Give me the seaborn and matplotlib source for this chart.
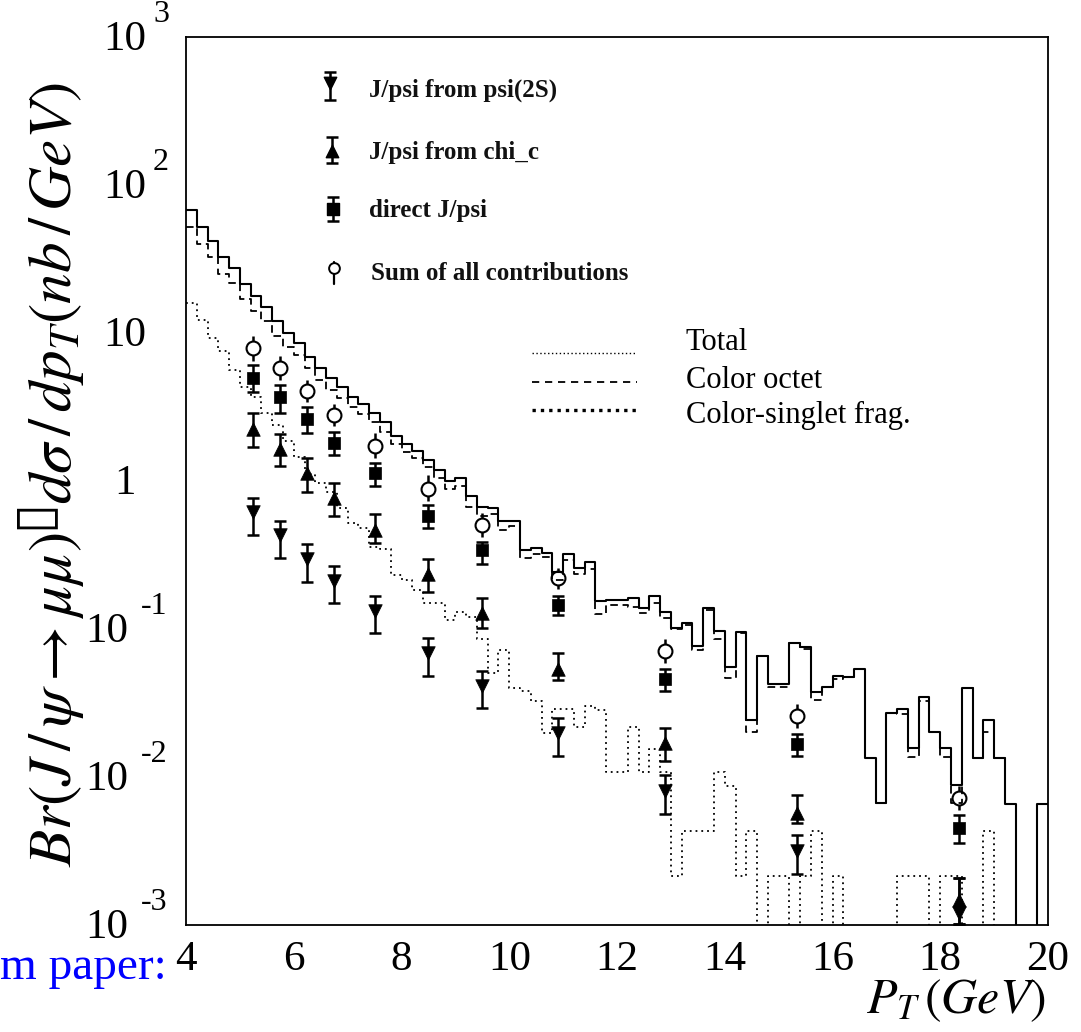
import numpy as np
import pandas as pd
import matplotlib
matplotlib.use("Agg")
import matplotlib.pyplot as plt
from matplotlib import transforms as mtransforms
from matplotlib.ticker import FixedLocator, MultipleLocator, LogLocator, NullFormatter
import seaborn as sns

# ---------------- histogram contents: 0.2 GeV bins, 4 - 20 GeV (nb/GeV) ----------------
pt_lo, pt_hi, n_bins = 4.0, 20.0, 80

total = [
    67.8, 52.0, 41.9, 32.6, 27.5, 21.4, 17.8, 15.0, 12.0, 10.0,
    8.56, 6.88, 5.80, 4.97, 4.32, 3.70, 3.31, 2.88, 2.50, 2.01,
    1.78, 1.60, 1.39, 1.19, 1.00, 1.05, 0.792, 0.667, 0.652, 0.537,
    0.537, 0.342, 0.352, 0.326, 0.243, 0.321, 0.258, 0.284, 0.155, 0.157,
    0.157, 0.162, 0.139, 0.167, 0.130, 0.102, 0.110, 0.0767, 0.139, 0.0969,
    0.0553, 0.0955, 0.0243, 0.0657, 0.0425, 0.0425, 0.0804, 0.0755, 0.0375, 0.0406,
    0.0481, 0.0472, 0.0537, 0.0134, 0.00667, 0.0270, 0.0288, 0.0157, 0.0347, 0.0201,
    0.0157, 0.00883, 0.0399, 0.0134, 0.0243, 0.0134, 0.00655, 0.0, 0.0, 0.00655,
]

color_octet = [
    51.8, 39.8, 32.6, 25.0, 21.9, 17.1, 14.1, 12.1, 9.6, 8.1,
    7.1, 5.77, 4.83, 4.13, 3.66, 3.18, 2.83, 2.52, 2.15, 1.78,
    1.57, 1.42, 1.24, 1.04, 0.885, 0.92, 0.671, 0.58, 0.60, 0.465,
    0.497, 0.304, 0.319, 0.306, 0.214, 0.292, 0.236, 0.254, 0.127, 0.146,
    0.146, 0.140, 0.128, 0.151, 0.119, 0.0995, 0.106, 0.0724, 0.135, 0.0861,
    0.0466, 0.0934, 0.0200, 0.0657, 0.0404, 0.0404, 0.0804, 0.0734, 0.0332, 0.0406,
    0.0460, 0.0472, 0.0537, 0.0134, 0.00667, 0.0270, 0.0267, 0.0136, 0.0326, 0.0201,
    0.0136, 0.0067, 0.0399, 0.0134, 0.0200, 0.0134, 0.00655, 0.0, 0.0, 0.00655,
]

singlet_frag = [
    16.0, 12.2, 9.25, 7.56, 5.62, 4.32, 3.70, 2.88, 2.39, 1.86,
    1.45, 1.11, 0.969, 0.843, 0.657, 0.520, 0.481, 0.358, 0.347, 0.232,
    0.214, 0.184, 0.150, 0.150, 0.115, 0.130, 0.121, 0.0855, 0.0505, 0.0721,
    0.0399, 0.0381, 0.0327, 0.0198, 0.0288, 0.0288, 0.0218, 0.0302, 0.0285, 0.0108,
    0.0108, 0.0218, 0.0108, 0.0155, 0.0108, 0.00214, 0.0043, 0.0043, 0.0043, 0.0108,
    0.0087, 0.00214, 0.0043, 0.0, 0.00214, 0.00214, 0.0, 0.00214, 0.0043, 0.0,
    0.00214, 0.0, 0.0, 0.0, 0.0, 0.0, 0.00214, 0.00214, 0.00214, 0.0,
    0.00214, 0.00214, 0.0, 0.0, 0.0043, 0.0, 0.0, 0.0, 0.0, 0.0,
]

# ---------------- measured points (value, upper, lower) ----------------
pt_points = [5.25, 5.75, 6.25, 6.75, 7.5, 8.5, 9.5, 10.9, 12.9, 15.35, 18.35]

sum_all = [7.92, 5.80, 4.06, 2.79, 1.72, 0.883, 0.505, 0.221, 0.0710, 0.0258, 0.00721]
sum_hi = [9.6, 7.0, 4.8, 3.3, 2.1, 1.1, 0.61, 0.26, 0.085, 0.031, 0.0087]
sum_lo = [6.5, 4.8, 3.4, 2.35, 1.42, 0.73, 0.42, 0.185, 0.059, 0.0215, 0.0060]

direct = [4.97, 3.70, 2.62, 1.81, 1.13, 0.580, 0.342, 0.145, 0.0459, 0.0167, 0.00452]
direct_hi = [6.08, 4.45, 3.16, 2.14, 1.32, 0.689, 0.387, 0.167, 0.0537, 0.0195, 0.00553]
direct_lo = [3.99, 2.89, 2.11, 1.50, 0.925, 0.481, 0.275, 0.124, 0.0381, 0.0139, 0.00358]

from_chic = [2.24, 1.64, 1.13, 0.767, 0.467, 0.235, 0.128, 0.0537, 0.0170, 0.00571, 0.00148]
from_chic_hi = [2.88, 2.08, 1.43, 0.969, 0.598, 0.297, 0.162, 0.0689, 0.0214, 0.00755, 0.00208]
from_chic_lo = [1.70, 1.26, 0.843, 0.580, 0.381, 0.178, 0.102, 0.0452, 0.0128, 0.00489, 0.00101]

from_psi2s = [0.618, 0.432, 0.297, 0.211, 0.132, 0.0689, 0.0412, 0.0198, 0.00804, 0.00316, 0.00121]
from_psi2s_hi = [0.767, 0.537, 0.375, 0.267, 0.167, 0.0869, 0.0520, 0.0251, 0.0103, 0.00406, 0.00208]
from_psi2s_lo = [0.432, 0.302, 0.208, 0.150, 0.094, 0.0481, 0.0292, 0.0139, 0.00562, 0.00221, 0.00101]

# ---------------- tick labels ----------------
x_tick_labels = ["4", "6", "8", "10", "12", "14", "16", "18", "20"]
y_tick_values = [1e3, 1e2, 1e1, 1.0, 1e-1, 1e-2, 1e-3]
y_tick_bases = ["10", "10", "10", "1", "10", "10", "10"]
y_tick_exps = ["3", "2", "", "", "-1", "-2", "-3"]

# ---------------- style ----------------
sns.set_style("white")
plt.rcParams["font.family"] = ["Liberation Serif", "DejaVu Serif"]
plt.rcParams["mathtext.fontset"] = "stix"
for key in ("text.color", "axes.labelcolor", "xtick.color", "ytick.color"):
    plt.rcParams[key] = "black"

W, H, DPI = 1081, 1032, 100
fig = plt.figure(figsize=(W / DPI, H / DPI), dpi=DPI)
fig.patch.set_facecolor("white")

ax_l, ax_r, ax_t, ax_b = 186, 1048, 37, 925
ax = fig.add_axes([ax_l / W, 1 - ax_b / H, (ax_r - ax_l) / W, (ax_b - ax_t) / H])

edges = [float(e) for e in np.linspace(pt_lo, pt_hi, n_bins + 1)]
centers = [0.5 * (a + b) for a, b in zip(edges[:-1], edges[1:])]
hist_df = pd.DataFrame({"pt": centers, "total": total,
                        "octet": color_octet, "frag": singlet_frag})

ax.set_yscale("log")
for col, ls, lw in [("total", "-", 1.5),
                    ("octet", (0, (4.2, 2.6)), 1.3),
                    ("frag", (0, (1.0, 2.2)), 1.3)]:
    sns.histplot(data=hist_df, x="pt", weights=col, bins=edges,
                 element="step", fill=False, color="black",
                 linewidth=lw, linestyle=ls, ax=ax, zorder=4)

# error bars
def draw_errors(vals, hi, lo, capsize, z=2):
    v = np.asarray(vals)
    yerr = [v - np.asarray(lo), np.asarray(hi) - v]
    ax.errorbar(pt_points, v, yerr=yerr, fmt="none", ecolor="black",
                elinewidth=1.8, capsize=capsize, capthick=1.8, zorder=z)

draw_errors(from_psi2s, from_psi2s_hi, from_psi2s_lo, 4.5)
draw_errors(from_chic, from_chic_hi, from_chic_lo, 4.5)
draw_errors(direct, direct_hi, direct_lo, 4.5)
draw_errors(sum_all, sum_hi, sum_lo, 0)

sns.scatterplot(x=pt_points, y=from_psi2s, marker="v", s=95, color="black",
                edgecolor="black", linewidth=0.5, ax=ax, zorder=5)
sns.scatterplot(x=pt_points, y=from_chic, marker="^", s=95, color="black",
                edgecolor="black", linewidth=0.5, ax=ax, zorder=5)
sns.scatterplot(x=pt_points, y=direct, marker="s", s=70, color="black",
                edgecolor="black", linewidth=0.5, ax=ax, zorder=5)
sns.scatterplot(x=pt_points, y=sum_all, marker="o", s=100, color="white",
                edgecolor="black", linewidth=1.5, ax=ax, zorder=3)

ax.set_xlim(pt_lo, pt_hi)
ax.set_ylim(1e-3, 1e3)
ax.set_xlabel("")
ax.set_ylabel("")

for sp in ax.spines.values():
    sp.set_color("black")
    sp.set_linewidth(1.3)

ax.xaxis.set_major_locator(FixedLocator(np.arange(4, 21, 2)))
ax.xaxis.set_minor_locator(MultipleLocator(0.5))
ax.set_xticklabels(x_tick_labels)
ax.yaxis.set_major_locator(FixedLocator(y_tick_values))
ax.yaxis.set_minor_locator(LogLocator(base=10, subs=np.arange(2, 10), numticks=20))
ax.yaxis.set_minor_formatter(NullFormatter())
ax.tick_params(axis="both", which="both", direction="in", top=False, right=False,
               color="black", width=1.2)
ax.tick_params(axis="both", which="major", length=12)
ax.tick_params(axis="both", which="minor", length=6)
ax.tick_params(axis="x", which="major", labelsize=31, pad=11, labelcolor="black")
ax.tick_params(axis="y", which="both", labelleft=False)

# y tick labels: "10" with a raised exponent
def fig_px_trans(dy_px):
    base = mtransforms.blended_transform_factory(fig.transFigure, ax.transData)
    return base + mtransforms.ScaledTranslation(0, dy_px / DPI, fig.dpi_scale_trans)

for val, b, e in zip(y_tick_values, y_tick_bases, y_tick_exps):
    neg = e.startswith("-")
    if b == "1":
        right_x = 136
    elif neg:
        right_x = 128
    else:
        right_x = 146
    fig.text(right_x / W, val, b, transform=fig_px_trans(-3), ha="right",
             va="center", fontsize=31, color="black")
    if e:
        left_x = 141 if neg else 153
        fig.text(left_x / W, val, e, transform=fig_px_trans(23), ha="left",
                 va="center", fontsize=23, color="black")

# overlay in pixel coordinates for labels and legends
ov = fig.add_axes([0, 0, 1, 1], facecolor="none")
ov.set_xlim(0, W)
ov.set_ylim(H, 0)
ov.axis("off")

ov.text(1046, 1013, r"$P_T\,(GeV)$", ha="right", va="baseline", fontsize=36)
ov.text(52, 475, "$Br(J\\,/\\,\\psi \\rightarrow \\mu\\mu)^{\u25af}d\\sigma\\,/\\,dp_T(nb\\,/\\,GeV)$",
        rotation=90, ha="center", va="center", fontsize=44)
ov.text(167, 979, "m paper:", ha="right", va="baseline", fontsize=34, color="#0000ff")

# legend for the measured contributions
leg_items = [
    ("v", 330, 83, 11, 17, "J/psi from psi(2S)", 90),
    ("^", 332, 151, 14, 12, "J/psi from chi_c", 153),
    ("s", 333, 209, 12, 12, "direct J/psi", 211),
]
for mk, lx, ly, up, dn, label, ty in leg_items:
    ov.errorbar([lx], [ly], yerr=[[up], [dn]], fmt="none", ecolor="black",
                elinewidth=1.8, capsize=4.5, capthick=1.8)
    ov.scatter([lx], [ly], marker=mk, s=80 if mk != "s" else 75, color="black", zorder=3)
    ov.text(369, ty, label, ha="left", va="center", fontsize=18, fontweight="bold",
            color="#111111")
ov.plot([334, 334], [262, 284], color="black", lw=1.6, zorder=2)
ov.scatter([334], [268], marker="o", s=60, facecolor="white", edgecolor="black",
           linewidth=1.4, zorder=3)
ov.text(371, 273, "Sum of all contributions", ha="left", va="center", fontsize=18,
        fontweight="bold", color="#111111")

# legend for the theory curves
curve_legend = [
    ("Total", (0, (1.0, 1.8)), 1.0, 353, 343),
    ("Color octet", (0, (4.0, 3.2)), 1.3, 382, 380),
    ("Color-singlet frag.", (0, (1.0, 1.5)), 2.4, 410, 415),
]
for label, ls, lw, ly, ty in curve_legend:
    ov.plot([532, 637], [ly, ly], color="black", linestyle=ls, linewidth=lw)
    ov.text(686, ty, label, ha="left", va="center", fontsize=22, color="black")

fig.savefig("out.png", dpi=DPI, facecolor="white")
